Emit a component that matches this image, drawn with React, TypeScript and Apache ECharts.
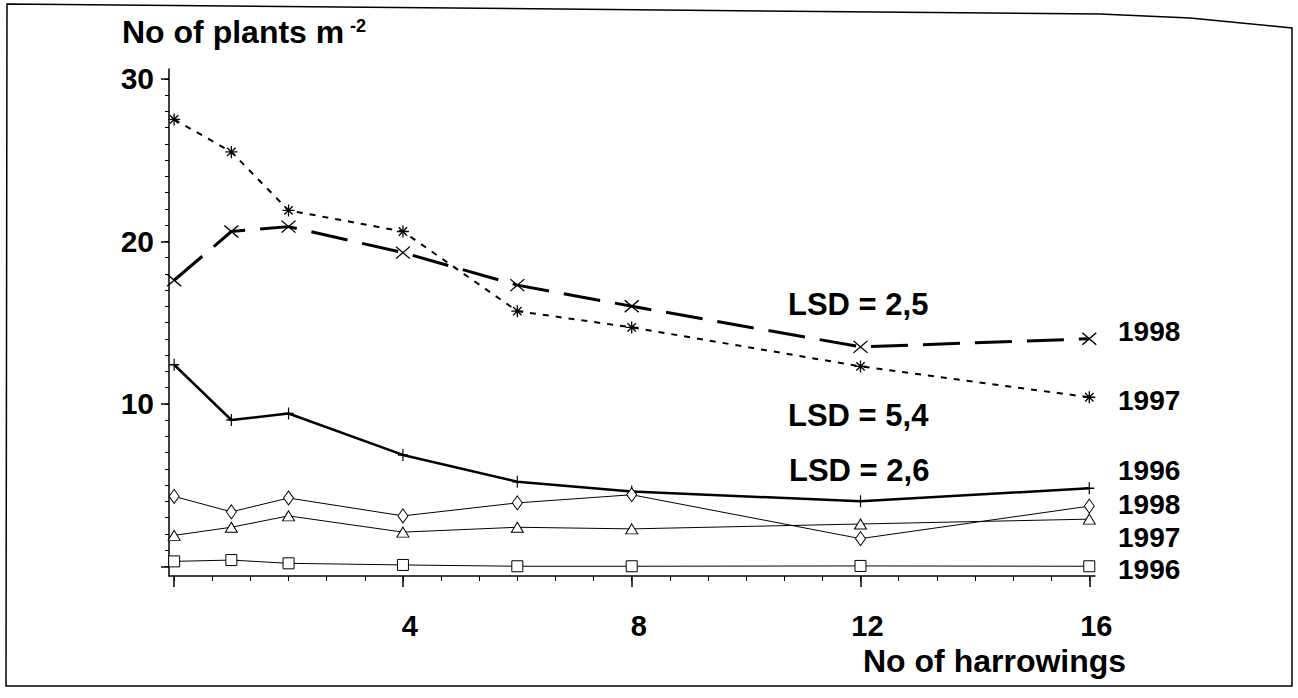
import React, { useEffect, useRef } from "react";
import * as echarts from "echarts";

// Number of harrowings (x values)
const harrowings = [0, 1, 2, 4, 6, 8, 12, 16];
// Upper group (heavy lines)
const upper1998 = [17.6, 20.6, 20.9, 19.3, 17.3, 16.0, 13.5, 14.0];
const upper1997 = [27.5, 25.5, 21.9, 20.6, 15.7, 14.7, 12.3, 10.4];
const upper1996 = [12.4, 9.0, 9.4, 6.85, 5.2, 4.6, 4.0, 4.8];
// Lower group (thin lines)
const lower1998 = [4.3, 3.35, 4.2, 3.1, 3.9, 4.4, 1.7, 3.7];
const lower1997 = [1.9, 2.4, 3.1, 2.1, 2.4, 2.3, 2.6, 2.9];
const lower1996 = [0.3, 0.38, 0.18, 0.08, 0.0, 0.0, 0.02, 0.0];

// Axis ticks / labels
const xMajorTicks = [0, 4, 8, 12, 16];
const xTickLabels = [4, 8, 12, 16];
const xMinorTicks = Array.from({ length: 25 }, (_, i) => (i * 2) / 3);
const yMajorTicks = [0, 10, 20, 30];
const yTickLabels = [10, 20, 30];
const yMinorTicks = Array.from({ length: 31 }, (_, i) => i);

const X_MIN = -0.09;
const X_MAX = 16.1;
const Y_MIN = -0.6;
const Y_MAX = 30.6;

const FONT = '"Liberation Sans", Arial, Helvetica, sans-serif';

const CROSS = "path://M0,0L10,10M0,10L10,0";
const PLUS = "path://M5,0L5,10M0,5L10,5";
const STAR = "path://M0,5L10,5M1.5,1.5L8.5,8.5M1.5,8.5L8.5,1.5M5,0L5,10";
const SQUARE = "path://M0,0H10V10H0Z";
const TRIANGLE = "path://M5,0L10,10H0Z";
const DIAMOND = "path://M5,0L10,7L5,14L0,7Z";

export default function App() {
  const ref = useRef<HTMLDivElement>(null);

  useEffect(() => {
    const chart = echarts.init(ref.current!, null, { renderer: "svg" });
    const pts = (vals: number[]) => harrowings.map((h, i) => [h, vals[i]]);
    const black = "#000";

    const mkSeries = (
      name: string,
      vals: number[],
      symbol: string,
      size: number | number[],
      lineWidth: number,
      lineType: any,
      filled: boolean,
      borderWidth: number
    ) => ({
      name,
      type: "line",
      data: pts(vals),
      symbol,
      symbolSize: size,
      showSymbol: true,
      clip: false,
      lineStyle: { color: black, width: lineWidth, type: lineType },
      itemStyle: {
        color: filled ? black : "#fff",
        borderColor: black,
        borderWidth,
      },
      emphasis: { disabled: true },
      z: filled ? 3 : 4,
    });

    const text = (t: string, x: number, y: number, size: number) => ({
      type: "text",
      x,
      y,
      silent: true,
      style: {
        text: t,
        font: `bold ${size}px ${FONT}`,
        fill: black,
        align: "left",
        verticalAlign: "middle",
      },
    });

    chart.setOption({
      animation: false,
      backgroundColor: "#fff",
      grid: {
        left: 169,
        top: 69,
        width: 926,
        height: 507,
        containLabel: false,
        outerBoundsMode: "none",
      },
      xAxis: [
        {
          type: "value",
          min: X_MIN,
          max: X_MAX,
          position: "bottom",
          axisLine: { show: true, onZero: false, lineStyle: { color: black, width: 1.5 } },
          axisTick: {
            show: true,
            length: 11,
            customValues: xMajorTicks,
            lineStyle: { color: black, width: 1.5 },
          },
          axisLabel: {
            show: true,
            customValues: xTickLabels,
            margin: 35,
            fontSize: 29,
            fontWeight: "bold",
            fontFamily: FONT,
            color: black,
            padding: [0, 0, 0, 14],
          },
          splitLine: { show: false },
        },
        {
          type: "value",
          min: X_MIN,
          max: X_MAX,
          position: "bottom",
          axisLine: { show: false, onZero: false },
          axisTick: {
            show: true,
            length: 5,
            customValues: xMinorTicks,
            lineStyle: { color: black, width: 1 },
          },
          axisLabel: { show: false },
          splitLine: { show: false },
        },
      ],
      yAxis: [
        {
          type: "value",
          min: Y_MIN,
          max: Y_MAX,
          position: "left",
          axisLine: { show: true, onZero: false, lineStyle: { color: black, width: 1.5 } },
          axisTick: {
            show: true,
            length: 8,
            customValues: yMajorTicks,
            lineStyle: { color: black, width: 1.5 },
          },
          axisLabel: {
            show: true,
            customValues: yTickLabels,
            margin: 15,
            fontSize: 30,
            fontWeight: "bold",
            fontFamily: FONT,
            color: black,
            padding: [12, 0, 0, 0],
          },
          splitLine: { show: false },
        },
        {
          type: "value",
          min: Y_MIN,
          max: Y_MAX,
          position: "left",
          axisLine: { show: false, onZero: false },
          axisTick: {
            show: true,
            length: 4,
            customValues: yMinorTicks,
            lineStyle: { color: black, width: 1 },
          },
          axisLabel: { show: false },
          splitLine: { show: false },
        },
      ],
      series: [
        mkSeries("1998 upper", upper1998, CROSS, [14, 12], 3, [37, 15], true, 1.3),
        mkSeries("1997 upper", upper1997, STAR, [12, 12], 2, [6, 7], true, 1.3),
        mkSeries("1996 upper", upper1996, PLUS, [10, 12], 2.5, "solid", true, 1.3),
        mkSeries("1998 lower", lower1998, DIAMOND, [10, 14], 1, "solid", false, 1),
        mkSeries("1997 lower", lower1997, TRIANGLE, [12, 10], 1, "solid", false, 1),
        mkSeries("1996 lower", lower1996, SQUARE, [11, 11], 1, "solid", false, 1),
      ],
      graphic: [
        {
          type: "polygon",
          silent: true,
          z: -10,
          shape: {
            points: [
              [7, 4],
              [1100, 14],
              [1190, 18],
              [1292, 28],
              [1292, 686],
              [6, 686],
            ],
          },
          style: { fill: "none", stroke: black, lineWidth: 1.5 },
        },
        text("No of plants m", 122, 32, 32),
        text("-2", 350, 26, 18),
        text("LSD = 2,5", 788, 304, 31),
        text("LSD = 5,4", 788, 415, 31),
        text("LSD = 2,6", 789, 470, 31),
        text("1998", 1118, 331, 28),
        text("1997", 1118, 400, 28),
        text("1996", 1118, 470, 28),
        text("1998", 1118, 504, 28),
        text("1997", 1118, 537, 28),
        text("1996", 1118, 569, 28),
        text("No of harrowings", 863, 661, 32),
      ],
    });

    return () => chart.dispose();
  }, []);

  return (
    <div
      ref={ref}
      style={{ position: "absolute", left: 0, top: 0, width: 1298, height: 698 }}
    />
  );
}
